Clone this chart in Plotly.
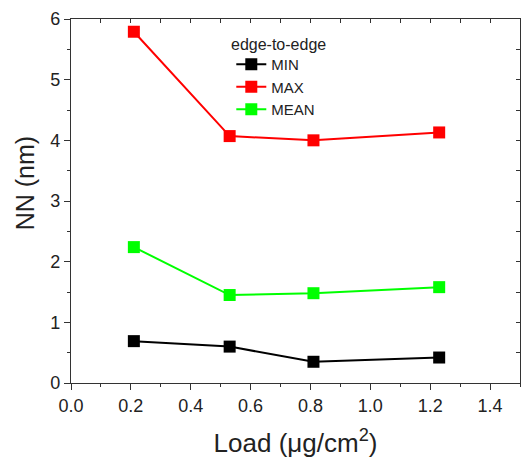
import plotly.graph_objects as go

load = [0.21, 0.53, 0.81, 1.23]
nn_min = [0.69, 0.60, 0.35, 0.42]
nn_max = [5.79, 4.07, 4.00, 4.13]
nn_mean = [2.24, 1.45, 1.48, 1.58]

FONT = "Arial, Liberation Sans, sans-serif"

fig = go.Figure()
for name, ys, col in [("MIN", nn_min, "#000000"), ("MAX", nn_max, "#ff0000"), ("MEAN", nn_mean, "#00ff00")]:
    fig.add_trace(go.Scatter(x=load, y=ys, mode="lines+markers", name=name,
                             line=dict(color=col, width=2),
                             marker=dict(symbol="square", size=12, color=col)))

axis_common = dict(showgrid=False, zeroline=False, showline=True, linecolor="#333", linewidth=1.2,
                   tickcolor="#333", tickfont=dict(family=FONT, size=18, color="#222"))

fig.update_layout(
    width=525, height=462,
    margin=dict(l=71, r=5, t=19, b=79),
    paper_bgcolor="white", plot_bgcolor="white",
    font=dict(family=FONT, color="#222"),
    xaxis=dict(range=[0, 1.5], dtick=0.2, tick0=0, ticks="outside", ticklen=6,
               tickformat=".1f",
               minor=dict(dtick=0.1, ticks="outside", ticklen=3, tickcolor="#333"),
               title=dict(text="Load (μg/cm<sup>2</sup>)", font=dict(family=FONT, size=26), standoff=19),
               **axis_common),
    yaxis=dict(range=[0, 6], dtick=1, ticks="outside", ticklen=6,
               minor=dict(dtick=0.5, ticks="outside", ticklen=3, tickcolor="#333"),
               **axis_common),
    xaxis2=dict(range=[0, 1.5], overlaying="x", side="top", showticklabels=False,
                dtick=0.1, ticks="inside", ticklen=4, showgrid=False, zeroline=False,
                showline=True, linecolor="#333", linewidth=1.2, tickcolor="#333"),
    yaxis2=dict(range=[0, 6], overlaying="y", side="right", showticklabels=False,
                dtick=0.5, ticks="inside", ticklen=4, showgrid=False, zeroline=False,
                showline=True, linecolor="#333", linewidth=1.2, tickcolor="#333"),
    legend=dict(x=0.357, y=0.92, xanchor="left", yanchor="top", bgcolor="rgba(0,0,0,0)",
                font=dict(family=FONT, size=15), tracegroupgap=0, itemwidth=30),
    annotations=[
        dict(text="NN (nm)", textangle=-90, xref="paper", yref="paper",
             x=-0.103, y=0.548, xanchor="center", yanchor="middle", showarrow=False,
             font=dict(family=FONT, size=25, color="#222")),
        dict(text="edge-to-edge", xref="paper", yref="paper",
             x=0.352, y=0.929, xanchor="left", yanchor="middle", showarrow=False,
             font=dict(family=FONT, size=16, color="#222")),
    ],
)
# dummy trace to activate the mirrored axes
fig.add_trace(go.Scatter(x=[None], y=[None], xaxis="x2", yaxis="y2", showlegend=False, hoverinfo="skip"))

fig.write_html("out.html")
